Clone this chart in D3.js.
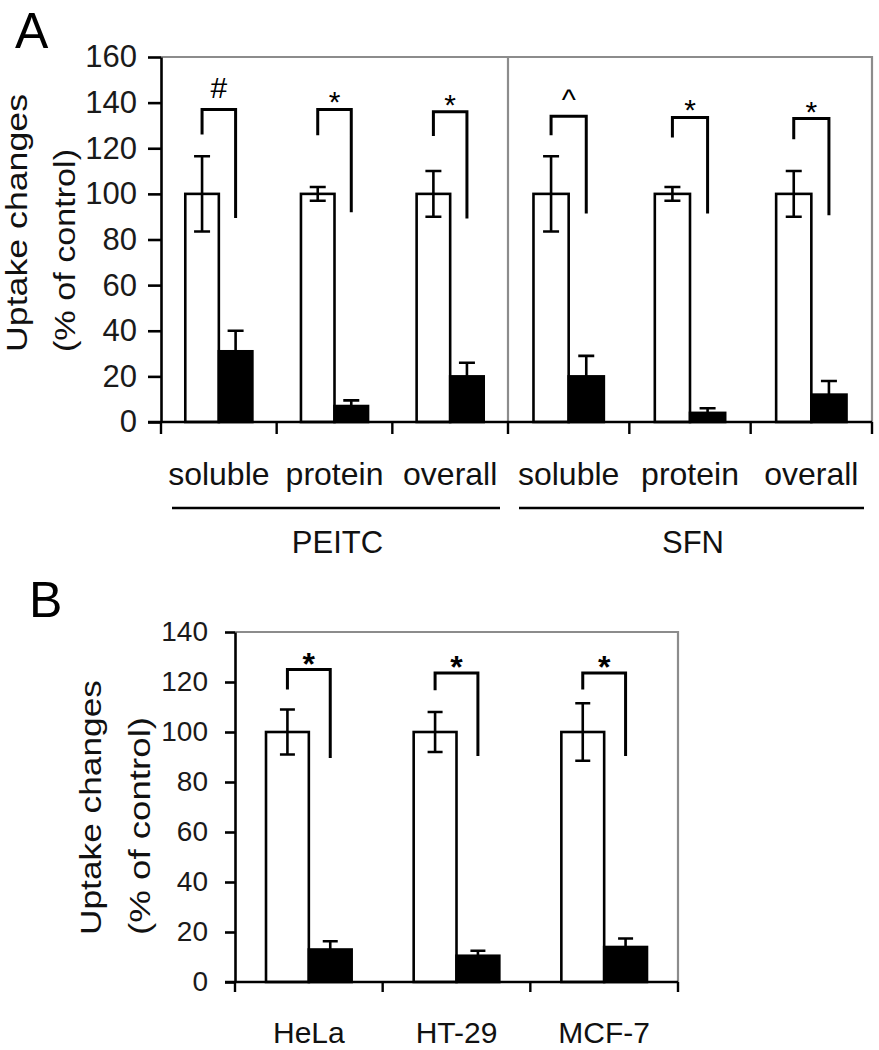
<!DOCTYPE html>
<html><head><meta charset="utf-8">
<script src="https://cdn.jsdelivr.net/npm/d3@7"></script>
<style>
html,body{margin:0;padding:0;background:#fff;}
svg{display:block;font-family:"Liberation Sans",Arial,sans-serif;}
</style></head><body>
<svg id="chart" width="879" height="1050"></svg>
<script>
// ---------- Panel A data ----------
const catsA = ["soluble","protein","overall","soluble","protein","overall"];
const groupsA = ["PEITC","SFN"];
const ctrlA = [100,100,100,100,100,100];
const ctrlErrA = [16.5,3,10,16.5,3,10];
const treatA = [31,7,20,20,4,12];
const treatErrA = [9,2.5,6,9,2,6];
const sigA = ["#","*","*","^","*","*"];
const brTopA = [137,137,136,134,133.5,133];
const brLeftA = [126,125.7,125.4,125.7,124.7,124];
const brRightA = [89.4,92,89.2,91.4,91.4,90.6];
const ticksA = [0,20,40,60,80,100,120,140,160];

// ---------- Panel B data ----------
const catsB = ["HeLa","HT-29","MCF-7"];
const ctrlB = [100,100,100];
const ctrlErrB = [9,8,11.5];
const treatB = [13,10.5,14];
const treatErrB = [3.3,2,3.4];
const sigB = ["*","*","*"];
const brTopB = [125,123.6,123.6];
const brLeftB = [117,116.7,117];
const brRightB = [89.6,90.4,90.4];
const ticksB = [0,20,40,60,80,100,120,140];

const yTitle = ["Uptake changes","(% of control)"];

const svg = d3.select("#chart");
const GRAY = "#8c8c8c";

function drawPanel(cfg){
  const g = svg.append("g");
  const x = cfg.x, y = cfg.y, n = cfg.cats.length;
  const y0 = y(0), yTop = y(cfg.ticks[cfg.ticks.length-1]);
  const xL = x(0), xR = x(n);

  g.append("path").attr("d", `M${xL},${yTop}H${xR}V${y0}`)
    .attr("fill","none").attr("stroke",GRAY).attr("stroke-width",2.2);
  (cfg.dividers||[]).forEach(d=>{
    g.append("line").attr("x1",x(d)).attr("x2",x(d)).attr("y1",yTop).attr("y2",y0)
      .attr("stroke",GRAY).attr("stroke-width",2.2);
  });

  const cats = d3.range(n);
  const info = i => { const a=x(i), b=x(i+1), c=(a+b)/2, bw=(b-a)*0.29; return {a,b,c,bw}; };

  cats.forEach(i=>{
    const {c,bw} = info(i);
    g.append("rect").attr("x",c-bw).attr("width",bw)
      .attr("y",y(cfg.ctrl[i])).attr("height",y0-y(cfg.ctrl[i]))
      .attr("fill","#fff").attr("stroke","#000").attr("stroke-width",2.6);
    g.append("rect").attr("x",c).attr("width",bw)
      .attr("y",y(cfg.treat[i])).attr("height",y0-y(cfg.treat[i]))
      .attr("fill","#000").attr("stroke","#000").attr("stroke-width",2.6);
  });

  const cap = cfg.cap;
  cats.forEach(i=>{
    const {c,bw} = info(i);
    const xc = c-bw/2, xt = c+bw/2;
    const v = cfg.ctrl[i], e = cfg.ctrlErr[i];
    g.append("path").attr("d",
      `M${xc},${y(v-e)}V${y(v+e)}M${xc-cap/2},${y(v+e)}H${xc+cap/2}M${xc-cap/2},${y(v-e)}H${xc+cap/2}`)
      .attr("stroke","#000").attr("stroke-width",2.6).attr("fill","none");
    const t = cfg.treat[i], te = cfg.treatErr[i];
    g.append("path").attr("d",
      `M${xt},${y(t)}V${y(t+te)}M${xt-cap/2},${y(t+te)}H${xt+cap/2}`)
      .attr("stroke","#000").attr("stroke-width",2.6).attr("fill","none");
  });

  cats.forEach(i=>{
    const {c,bw} = info(i);
    const xl = c-bw/2, xr = c+bw/2;
    g.append("path").attr("d",
      `M${xl},${y(cfg.brLeft[i])}V${y(cfg.brTop[i])}H${xr}V${y(cfg.brRight[i])}`)
      .attr("stroke","#000").attr("stroke-width",3).attr("fill","none");
    const s = cfg.sig[i];
    const off = cfg.symOffset[s];
    g.append("text").attr("x",c).attr("y",y(cfg.brTop[i])+off)
      .attr("text-anchor","middle").attr("font-size",cfg.symSize)
      .attr("font-weight",cfg.symWeight).attr("fill","#000").text(s);
  });

  const ax = g.append("g").attr("transform",`translate(${xL},0)`)
    .call(d3.axisLeft(y).tickValues(cfg.ticks).tickSize(cfg.tickLen).tickPadding(cfg.tickPad).tickSizeOuter(0));
  ax.select(".domain").attr("stroke","#000").attr("stroke-width",2.6);
  ax.selectAll(".tick line").attr("stroke","#000").attr("stroke-width",2.6);
  ax.selectAll(".tick text").attr("font-size",cfg.tickFont).attr("fill","#1a1a1a")
    .attr("font-family","Liberation Sans, Arial, sans-serif");

  g.append("line").attr("x1",xL-cfg.tickLen).attr("x2",xR).attr("y1",y0).attr("y2",y0)
    .attr("stroke","#000").attr("stroke-width",2.6);
  d3.range(n+1).forEach(i=>{
    g.append("line").attr("x1",x(i)).attr("x2",x(i)).attr("y1",y0).attr("y2",y0+cfg.xTickLen)
      .attr("stroke","#000").attr("stroke-width",2.4);
  });

  cats.forEach(i=>{
    g.append("text").attr("x",info(i).c).attr("y",y0+cfg.labelDy)
      .attr("text-anchor","middle").attr("font-size",cfg.labelFont).attr("fill","#111")
      .text(cfg.cats[i]);
  });

  cfg.titleX.forEach((bx,k)=>{
    g.append("text").attr("transform","rotate(-90)")
      .attr("x",-cfg.titleStart).attr("y",bx)
      .attr("font-size",cfg.titleFont).attr("fill","#111")
      .attr("textLength",cfg.titleLen[k]).attr("lengthAdjust","spacingAndGlyphs")
      .text(yTitle[k]);
  });

  g.append("text").attr("x",cfg.letterX).attr("y",cfg.letterY)
    .attr("font-size",50).attr("fill","#000").text(cfg.letter);
  return g;
}

// ---------- Panel A ----------
const xA = d3.scaleLinear().domain([0,3,6]).range([161,508,872]);
const yA = d3.scaleLinear().domain([0,160]).range([422,57]);
const gA = drawPanel({
  x:xA, y:yA, cats:catsA, ctrl:ctrlA, ctrlErr:ctrlErrA, treat:treatA, treatErr:treatErrA,
  sig:sigA, brTop:brTopA, brLeft:brLeftA, brRight:brRightA, ticks:ticksA,
  dividers:[3], cap:16, tickLen:13, tickPad:11, tickFont:31, xTickLen:12,
  labelDy:63, labelFont:32, symSize:30, symWeight:"normal",
  symOffset:{"#":-11,"*":3,"^":-6},
  titleX:[27,75], titleStart:352, titleLen:[258,203], titleFont:30,
  letter:"A", letterX:15, letterY:48
});
groupsA.forEach((gname,k)=>{
  const a = xA(k*3), b = xA(k*3+3);
  gA.append("line").attr("x1",a+11).attr("x2",b-8).attr("y1",508).attr("y2",508)
    .attr("stroke","#000").attr("stroke-width",2.4);
  gA.append("text").attr("x",(a+b)/2+3).attr("y",553).attr("text-anchor","middle")
    .attr("font-size",31).attr("fill","#111").text(gname);
});

// ---------- Panel B ----------
const xB = d3.scaleLinear().domain([0,3]).range([235,678]);
const yB = d3.scaleLinear().domain([0,140]).range([982,632]);
drawPanel({
  x:xB, y:yB, cats:catsB, ctrl:ctrlB, ctrlErr:ctrlErrB, treat:treatB, treatErr:treatErrB,
  sig:sigB, brTop:brTopB, brLeft:brLeftB, brRight:brRightB, ticks:ticksB,
  dividers:[], cap:15, tickLen:10, tickPad:17, tickFont:28, xTickLen:10,
  labelDy:61, labelFont:30, symSize:32, symWeight:"bold",
  symOffset:{"*":5},
  titleX:[101,150], titleStart:935, titleLen:[255,218], titleFont:30,
  letter:"B", letterX:29, letterY:617
});
</script>
</body></html>
